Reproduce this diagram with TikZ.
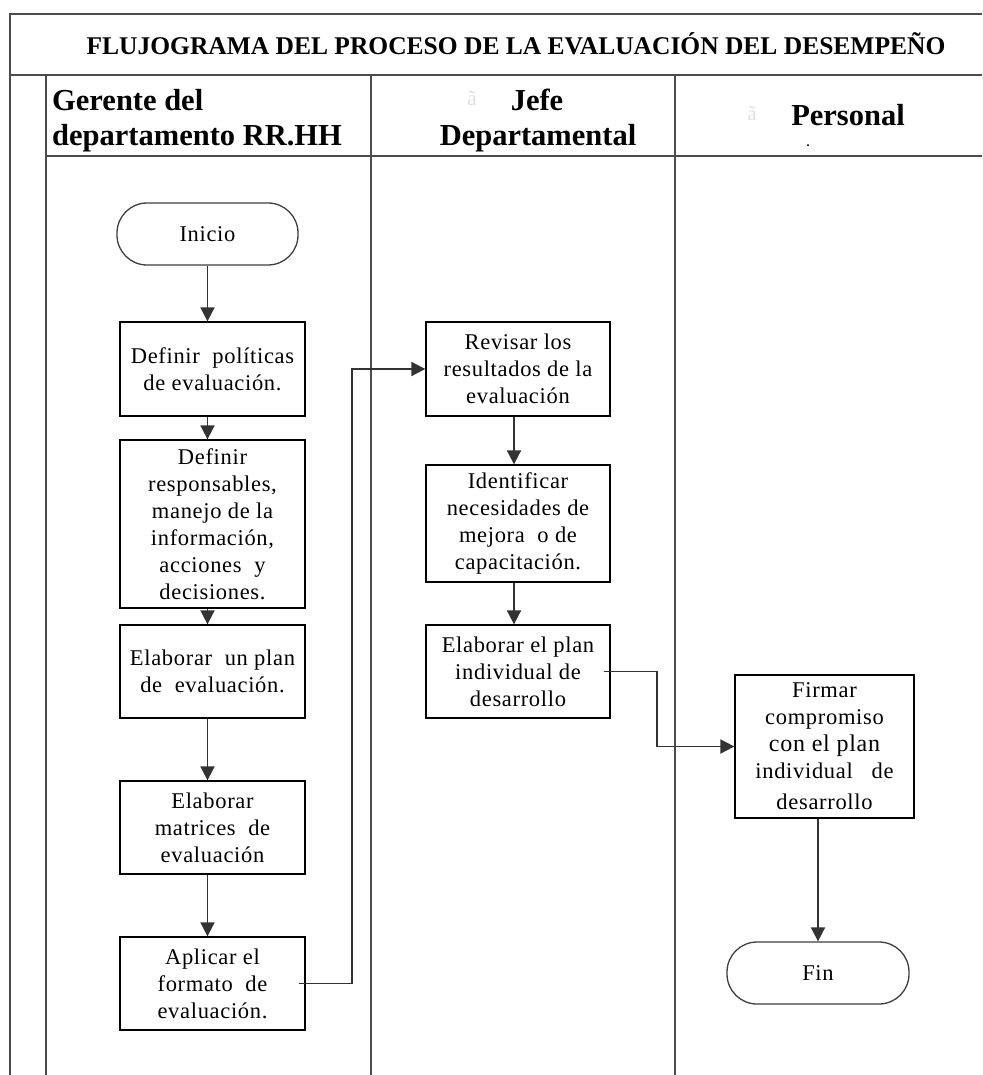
\documentclass[tikz,border=0pt]{standalone}
\usepackage{fontspec}
\setmainfont{Liberation Serif}
\newfontfamily\bodyfont{Liberation Serif}[LetterSpace=3]
\usetikzlibrary{arrows.meta}
\begin{document}
\begin{tikzpicture}[x=1pt,y=-1pt,
  lane/.style={draw=black!70,line width=1.7pt},
  box/.style={draw=black,line width=1.3pt,rectangle,inner sep=0pt,align=center,
    minimum width=185pt,font=\bodyfont\fontsize{22.5}{27}\selectfont},
  term/.style={draw=black!75,line width=1.3pt,rectangle,rounded corners=30pt,inner sep=0pt,
    minimum height=62pt,font=\bodyfont\fontsize{22.5}{27}\selectfont},
  arr/.style={draw=black!80,line width=1.8pt,-{Triangle[length=14pt,width=14pt]}},
  hdr/.style={font=\fontsize{30.5}{38}\selectfont\bfseries,inner sep=0pt},
  ghost/.style={text=black!12,font=\fontsize{21}{21}\selectfont,inner sep=0pt}]
\useasboundingbox[fill=white] (0,0) rectangle (982,1075);

% frame and lanes
\draw[lane] (982,14) -- (10,14) -- (10,1075);
\draw[lane] (10,75) -- (982,75);
\draw[lane] (46,75) -- (46,1075);
\draw[lane] (46,156) -- (982,156);
\draw[lane] (371,75) -- (371,1075);
\draw[lane] (675,75) -- (675,1075);

% title and headers
\node[inner sep=0pt,font=\fontsize{25.5}{30}\selectfont\bfseries] (title) at (516,44)
  {FLUJOGRAMA DEL PROCESO DE LA EVALUACIÓN DEL DESEMPEÑO};
\node[hdr,anchor=west] (h1a) at (52,100) {Gerente del};
\node[hdr,anchor=west] (h1b) at (52,138) {departamento RR.HH};
\node[ghost] (g2) at (472,99) {ã};
\node[hdr] (h2a) at (537,100) {Jefe};
\node[hdr] (h2b) at (538,138) {Departamental};
\node[ghost] (g3) at (752,114) {ã};
\node[hdr] (h3) at (848,115) {Personal};
\node[inner sep=0pt,font=\fontsize{12}{12}\selectfont\bfseries] (dot) at (808,146) {.};

% lane 1
\node[term,minimum width=181pt] (inicio) at (207.5,234) {Inicio};
\node[box,minimum height=94pt] (b1) at (212.5,369) {Definir\ \ políticas\\de evaluación.};
\node[box,minimum height=168pt] (b2) at (212.5,524) {Definir\\responsables,\\manejo de la\\información,\\acciones\ \ y\\decisiones.};
\node[box,minimum height=93pt] (b3) at (212.5,671.5) {Elaborar\ \ un plan\\de\ \ evaluación.};
\node[box,minimum height=93pt] (b4) at (212.5,827.5) {Elaborar\\matrices\ \ de\\evaluación};
\node[box,minimum height=93pt] (b5) at (212.5,983.5) {Aplicar el\\formato\ \ de\\evaluación.};

% lane 2
\node[box,minimum height=94pt,minimum width=184pt] (r1) at (518,369) {Revisar los\\resultados\ de la\\evaluación};
\node[box,minimum height=117pt,minimum width=184pt] (r2) at (518,523.5) {Identificar\\necesidades\ de\\mejora\ \ o de\\capacitación.};
\node[box,minimum height=93pt,minimum width=184pt] (r3) at (518,671.5) {Elaborar el plan\\individual\ de\\desarrollo};

% lane 3
\node[box,minimum height=143pt,minimum width=179pt] (f1) at (824.5,746.5)
  {Firmar\\compromiso\\{\fontsize{24}{27}\selectfont con el plan}\\individual\ \ \ de\\[4pt]desarrollo};
\node[term,minimum width=182pt] (fin) at (818,973) {Fin};

% connectors
\draw[arr] (inicio.south) -- (inicio.south |- b1.north);
\draw[arr] (inicio.south |- b1.south) -- (inicio.south |- b2.north);
\draw[arr] (inicio.south |- b2.south) -- (inicio.south |- b3.north);
\draw[arr] (inicio.south |- b3.south) -- (inicio.south |- b4.north);
\draw[arr] (inicio.south |- b4.south) -- (inicio.south |- b5.north);
\coordinate (k1) at (352,983.5);
\draw[arr] ([xshift=-7pt]b5.east) -- (k1) |- (r1.west);
\draw[arr] ([xshift=-4pt]r1.south) -- ([xshift=-4pt]r1.south |- r2.north);
\draw[arr] ([xshift=-4pt]r2.south) -- ([xshift=-4pt]r2.south |- r3.north);
\coordinate (k2) at (657,671.5);
\draw[arr] ([xshift=-7pt]r3.east) -- (k2) |- (f1.west);
\draw[arr] (fin.north |- f1.south) -- (fin.north);
\end{tikzpicture}
\end{document}
